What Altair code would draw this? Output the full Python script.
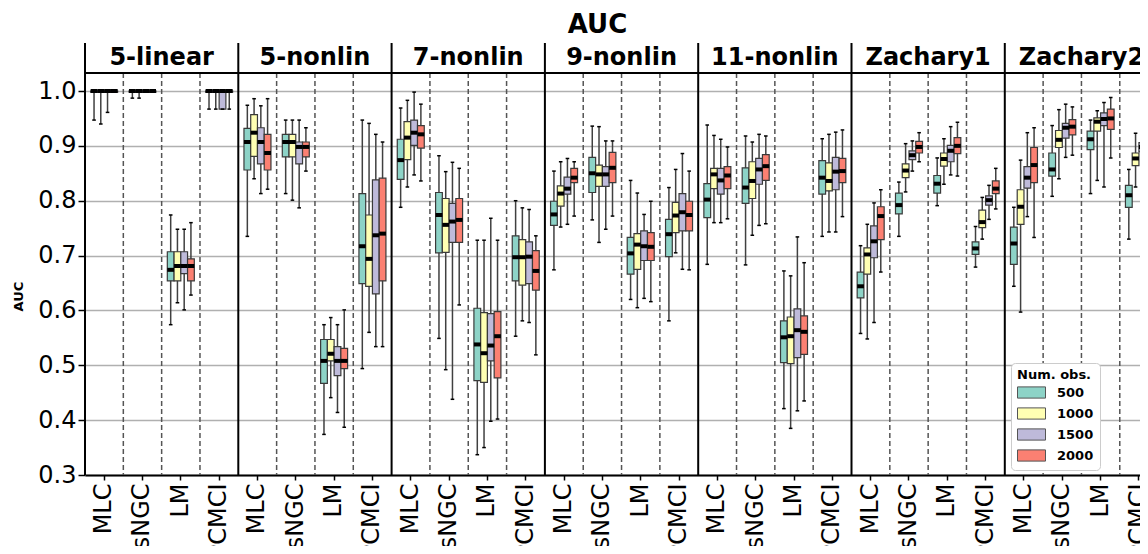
import altair as alt
import pandas as pd

DATASETS = ["5-linear", "5-nonlin", "7-nonlin", "9-nonlin", "11-nonlin", "Zachary1", "Zachary2"]
METHODS = ["MLC", "lsNGC", "LM", "PCMCI"]
NOBS = ["500", "1000", "1500", "2000"]
COLORS = ["#8dd3c7", "#ffffb3", "#bebada", "#fb8072"]
Y_TICKS = [0.3, 0.4, 0.5, 0.6, 0.7, 0.8, 0.9, 1.0]

# order inside each row: MLC[500,1000,1500,2000], lsNGC[...], LM[...], PCMCI[...]
LOW = [
    [0.947, 0.940, 0.961, 1.0, 0.987, 0.987, 1.0, 1.0, 0.574, 0.614, 0.601, 0.628, 0.967, 0.967, 0.967, 0.967],
    [0.735, 0.840, 0.813, 0.821, 0.813, 0.801, 0.787, 0.854, 0.374, 0.441, 0.414, 0.387, 0.494, 0.560, 0.534, 0.534],
    [0.788, 0.825, 0.847, 0.836, 0.549, 0.492, 0.438, 0.610, 0.337, 0.350, 0.398, 0.402, 0.553, 0.581, 0.578, 0.519],
    [0.674, 0.752, 0.757, 0.772, 0.765, 0.724, 0.748, 0.772, 0.620, 0.605, 0.622, 0.616, 0.581, 0.705, 0.675, 0.674],
    [0.684, 0.760, 0.760, 0.767, 0.683, 0.737, 0.755, 0.758, 0.421, 0.385, 0.417, 0.435, 0.735, 0.743, 0.743, 0.771],
    [0.558, 0.548, 0.578, 0.670, 0.735, 0.816, 0.854, 0.871, 0.791, 0.830, 0.847, 0.845, 0.679, 0.730, 0.766, 0.785],
    [0.644, 0.597, 0.771, 0.733, 0.808, 0.840, 0.879, 0.883, 0.813, 0.837, 0.825, 0.878, 0.730, 0.825, 0.864, 0.879],
]
Q1 = [
    [0.998, 0.998, 0.998, 0.998, 0.998, 0.998, 0.998, 0.998, 0.654, 0.654, 0.667, 0.654, 0.998, 0.998, 0.967, 0.998],
    [0.856, 0.881, 0.867, 0.856, 0.880, 0.880, 0.867, 0.880, 0.467, 0.508, 0.481, 0.494, 0.649, 0.644, 0.630, 0.654],
    [0.839, 0.875, 0.901, 0.896, 0.705, 0.706, 0.724, 0.724, 0.472, 0.469, 0.508, 0.477, 0.654, 0.646, 0.649, 0.637],
    [0.755, 0.790, 0.812, 0.833, 0.815, 0.826, 0.826, 0.833, 0.666, 0.675, 0.691, 0.691, 0.698, 0.742, 0.745, 0.745],
    [0.769, 0.822, 0.812, 0.822, 0.795, 0.804, 0.830, 0.837, 0.505, 0.503, 0.514, 0.520, 0.812, 0.818, 0.820, 0.833],
    [0.623, 0.666, 0.696, 0.729, 0.776, 0.842, 0.875, 0.887, 0.814, 0.863, 0.871, 0.886, 0.702, 0.751, 0.792, 0.813],
    [0.684, 0.757, 0.823, 0.833, 0.845, 0.897, 0.914, 0.920, 0.893, 0.927, 0.937, 0.930, 0.788, 0.864, 0.889, 0.912],
]
MED = [
    [1.0, 1.0, 1.0, 1.0, 1.0, 1.0, 1.0, 1.0, 0.674, 0.681, 0.681, 0.681, 1.0, 1.0, 1.0, 1.0],
    [0.907, 0.924, 0.907, 0.887, 0.907, 0.907, 0.898, 0.898, 0.508, 0.521, 0.508, 0.508, 0.717, 0.694, 0.737, 0.740],
    [0.874, 0.915, 0.924, 0.921, 0.774, 0.756, 0.762, 0.765, 0.538, 0.522, 0.536, 0.553, 0.697, 0.697, 0.698, 0.672],
    [0.775, 0.813, 0.822, 0.842, 0.850, 0.848, 0.848, 0.860, 0.704, 0.720, 0.717, 0.716, 0.739, 0.773, 0.779, 0.774],
    [0.802, 0.848, 0.837, 0.846, 0.824, 0.836, 0.857, 0.863, 0.551, 0.553, 0.564, 0.561, 0.842, 0.836, 0.853, 0.854],
    [0.644, 0.702, 0.726, 0.772, 0.792, 0.855, 0.883, 0.898, 0.831, 0.876, 0.891, 0.900, 0.713, 0.761, 0.801, 0.822],
    [0.722, 0.789, 0.842, 0.865, 0.857, 0.911, 0.933, 0.935, 0.912, 0.944, 0.949, 0.950, 0.810, 0.877, 0.898, 0.923],
]
Q3 = [
    [1.0, 1.0, 1.0, 1.0, 1.0, 1.0, 1.0, 1.0, 0.707, 0.707, 0.707, 0.694, 1.0, 1.0, 1.0, 1.0],
    [0.932, 0.957, 0.933, 0.921, 0.921, 0.921, 0.907, 0.907, 0.547, 0.547, 0.534, 0.531, 0.813, 0.774, 0.838, 0.841],
    [0.912, 0.944, 0.947, 0.937, 0.815, 0.804, 0.795, 0.804, 0.604, 0.596, 0.594, 0.598, 0.736, 0.729, 0.725, 0.709],
    [0.799, 0.827, 0.843, 0.859, 0.879, 0.865, 0.862, 0.888, 0.733, 0.740, 0.745, 0.742, 0.766, 0.797, 0.813, 0.799],
    [0.831, 0.859, 0.859, 0.862, 0.860, 0.871, 0.877, 0.884, 0.581, 0.588, 0.603, 0.590, 0.873, 0.869, 0.879, 0.877],
    [0.670, 0.714, 0.754, 0.789, 0.814, 0.867, 0.891, 0.908, 0.846, 0.887, 0.901, 0.915, 0.725, 0.783, 0.809, 0.836],
    [0.752, 0.820, 0.862, 0.897, 0.887, 0.928, 0.941, 0.948, 0.927, 0.951, 0.960, 0.967, 0.828, 0.887, 0.906, 0.933],
]
HIGH = [
    [1.0, 1.0, 1.0, 1.0, 1.0, 1.0, 1.0, 1.0, 0.774, 0.748, 0.748, 0.760, 1.0, 1.0, 1.0, 1.0],
    [0.974, 0.986, 0.973, 0.986, 0.947, 0.947, 0.947, 0.933, 0.574, 0.587, 0.574, 0.601, 0.947, 0.941, 0.921, 0.907],
    [0.969, 0.983, 0.998, 0.976, 0.882, 0.853, 0.870, 0.859, 0.728, 0.728, 0.768, 0.728, 0.800, 0.787, 0.784, 0.736],
    [0.854, 0.871, 0.877, 0.871, 0.936, 0.935, 0.909, 0.909, 0.837, 0.814, 0.775, 0.799, 0.824, 0.857, 0.886, 0.854],
    [0.938, 0.919, 0.912, 0.898, 0.918, 0.907, 0.921, 0.918, 0.672, 0.663, 0.734, 0.687, 0.913, 0.921, 0.925, 0.929],
    [0.718, 0.757, 0.796, 0.820, 0.834, 0.904, 0.909, 0.924, 0.878, 0.913, 0.935, 0.943, 0.753, 0.806, 0.828, 0.859],
    [0.788, 0.874, 0.924, 0.933, 0.937, 0.966, 0.976, 0.971, 0.947, 0.964, 0.979, 0.988, 0.857, 0.923, 0.946, 0.960],
]

FONT = "DejaVu Sans"
PANEL_W = 153.3
FULL_W = PANEL_W * len(DATASETS)   # x range of all panels (the last one runs past the page)
VIEW_W = 1055                      # visible plot width (page is 1148 wide)
VIEW_H = 432
Y_DOMAIN = [0.3, 1.0875]
HEADER_Y = 30

KEYS = [d + "|" + m for d in DATASETS for m in METHODS]

rows = []
for di, d in enumerate(DATASETS):
    for mi, m in enumerate(METHODS):
        for ni, n in enumerate(NOBS):
            k = mi * 4 + ni
            rows.append(dict(key=d + "|" + m, nobs=n, low=LOW[di][k], q1=Q1[di][k],
                             med=MED[di][k], q3=Q3[di][k], high=HIGH[di][k]))
box_df = pd.DataFrame(rows)
sep_df = pd.DataFrame({"key": [d + "|" + m for d in DATASETS for m in METHODS[1:]]})
border_df = pd.DataFrame({"key": [d + "|" + METHODS[0] for d in DATASETS]})
hdr_df = pd.DataFrame({"key": [d + "|" + METHODS[1] for d in DATASETS], "name": DATASETS})

x_axis = alt.Axis(labelAngle=270, labelAlign="right", labelBaseline="middle",
                  labelFontSize=24, labelColor="black", labelPadding=3, labelFont=FONT,
                  labelExpr="split(datum.value, '|')[1]", labelOverlap=False,
                  tickSize=5, tickColor="black", tickWidth=1.5,
                  domainColor="black", domainWidth=2, grid=False)
x_scale = alt.Scale(domain=KEYS, range=[0, FULL_W], paddingInner=0, paddingOuter=0,
                    round=False)
y_axis = alt.Axis(values=Y_TICKS, format=".1f", labelFontSize=24, labelColor="black",
                  labelFont=FONT, labelPadding=2, tickSize=7, tickColor="black",
                  tickWidth=1.5, domain=False, grid=True, gridColor="#b0b0b0",
                  gridWidth=1.5, titleFontSize=13, titleFontWeight="bold",
                  titleColor="black", titleFont=FONT, titlePadding=12, titleY=253)
y_scale = alt.Scale(domain=Y_DOMAIN, nice=False, zero=False)


def X(**kw):
    return alt.X("key:N", sort=KEYS, scale=x_scale, axis=x_axis, title=None, **kw)


def Y(f):
    return alt.Y(f + ":Q", scale=y_scale, axis=y_axis, title="AUC")


xo = alt.XOffset("nobs:N", sort=NOBS,
                 scale=alt.Scale(domain=NOBS, paddingInner=0, paddingOuter=0.84))

legend = alt.Legend(title="Num. obs.", orient="none", legendX=926, legendY=320,
                    titleFontSize=13, titleFontWeight="bold", titleFont=FONT,
                    titleColor="black", titlePadding=3, labelFontSize=13,
                    labelFontWeight="bold", labelFont=FONT, labelColor="black",
                    symbolType="M-2,-0.8H2V0.8H-2Z", symbolSize=196, symbolOffset=7,
                    symbolStrokeColor="#555555", symbolStrokeWidth=1,
                    symbolOpacity=1, strokeColor="#cccccc", fillColor="white",
                    padding=6, cornerRadius=4, labelOffset=18, rowPadding=4)
color = alt.Color("nobs:N", sort=NOBS, scale=alt.Scale(domain=NOBS, range=COLORS),
                  legend=legend)

base = alt.Chart(box_df)
whisk = base.mark_rule(color="#404040", strokeWidth=1.5).encode(
    x=X(), xOffset=xo, y=Y("low"), y2="high:Q")
box = base.mark_bar(stroke="#3a3a3a", strokeWidth=1.2, opacity=1).encode(
    x=X(), xOffset=xo, y=Y("q1"), y2="q3:Q", color=color)
med = base.mark_tick(color="black", thickness=4, size=6.8, opacity=1).encode(
    x=X(), xOffset=xo, y=Y("med"))
cap_lo = base.mark_tick(color="black", thickness=1.5, size=3.6, opacity=1).encode(
    x=X(), xOffset=xo, y=Y("low"))
cap_hi = base.mark_tick(color="black", thickness=1.5, size=3.6, opacity=1).encode(
    x=X(), xOffset=xo, y=Y("high"))

sep = alt.Chart(sep_df).mark_rule(color="#555555", strokeWidth=1.5, strokeDash=[5, 3]).encode(
    x=X(bandPosition=0), y=alt.value(HEADER_Y), y2=alt.value(VIEW_H))
borders = alt.Chart(border_df).mark_rule(color="black", strokeWidth=2).encode(
    x=X(bandPosition=0), y=alt.value(0), y2=alt.value(VIEW_H))
hline = alt.Chart(hdr_df).mark_rule(color="black", strokeWidth=2).encode(
    x=alt.value(0), x2=alt.value(FULL_W), y=alt.value(HEADER_Y))
htext = alt.Chart(hdr_df).mark_text(fontSize=24, fontWeight="bold", font=FONT, color="black",
                                    baseline="middle", align="center").encode(
    x=X(bandPosition=1), y=alt.value(HEADER_Y / 2), text="name:N")

chart = alt.layer(sep, whisk, box, med, cap_lo, cap_hi, hline, htext, borders).properties(
    width=VIEW_W, height=VIEW_H,
    autosize=alt.AutoSizeParams(type="none"),
    padding={"left": 77, "top": 35, "right": 0, "bottom": 71},
    title=alt.TitleParams("AUC", fontSize=26, fontWeight="bold", font=FONT, color="black",
                          anchor="middle", frame="group", dx=-15, offset=4)
).configure(font=FONT).configure_view(stroke="transparent")

chart.save("out.html", embed_options={"renderer": "svg", "actions": False})
